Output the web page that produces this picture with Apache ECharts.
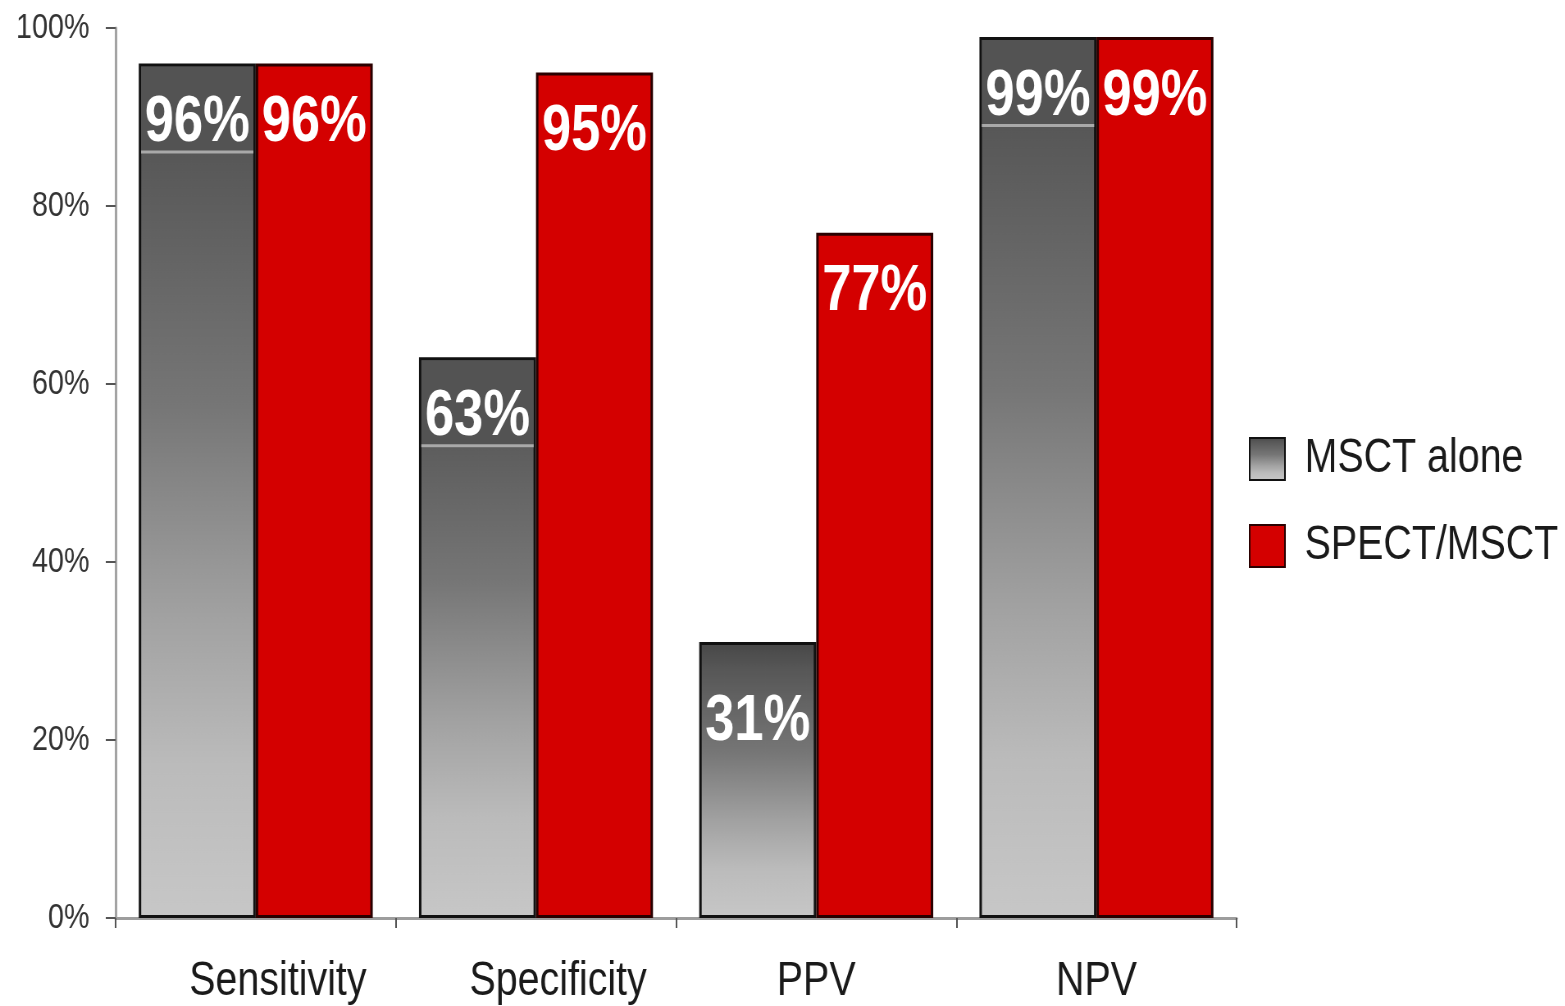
<!DOCTYPE html>
<html>
<head>
<meta charset="utf-8">
<title>MSCT alone vs SPECT/MSCT</title>
<script src="https://cdn.jsdelivr.net/npm/echarts@6/dist/echarts.min.js"></script>
<style>
  html, body { margin: 0; padding: 0; background: #ffffff; overflow: hidden; }
  /* The chart is laid out wider and squeezed horizontally so its lettering reads condensed */
  #chart { width: 1909px; height: 1006px; transform: scaleX(0.82); transform-origin: 0 0; }
</style>
</head>
<body>
<div id="chart"></div>
<script>
// Diagnostic performance per measure, in percent
const categories = ['Sensitivity', 'Specificity', 'PPV', 'NPV'];
const msctAlone = [96, 63, 31, 99];
const spectMsct = [96, 95, 77, 99];
const seriesNames = ['MSCT alone', 'SPECT/MSCT'];
const yTicks = [0, 20, 40, 60, 80, 100];

const FONT = "'Liberation Sans', Arial, Helvetica, sans-serif";

// Gray bars fade from dark at the top to light at the baseline
const grayFill = new echarts.graphic.LinearGradient(0, 0, 0, 1, [
  { offset: 0, color: '#474747' },
  { offset: 0.1, color: '#575757' },
  { offset: 0.4, color: '#767676' },
  { offset: 0.65, color: '#a2a2a2' },
  { offset: 0.82, color: '#bbbbbb' },
  { offset: 1, color: '#c7c7c7' }
]);
const redFill = '#d40000';

// Measures whose gray value sits in a dark band closed by a thin light rule
const bandedMeasures = ['Sensitivity', 'Specificity', 'NPV'];
// Measure whose gray value is set lower in its bar
const loweredMeasures = ['PPV'];
// Category names that sit a little right of their bar pair
const shiftedNames = ['Sensitivity', 'Specificity'];

const valueText = {
  fontFamily: FONT,
  fontSize: 64,
  fontWeight: 'bold',
  color: '#ffffff',
  lineHeight: 54,
  align: 'center'
};

const bandLabel = {
  show: true,
  position: 'insideTop',
  distance: 3,
  padding: [30, 0, 0, 0],
  backgroundColor: '#535353',
  formatter: p => '{v|' + p.value + '%}\n{u|}',
  rich: {
    v: valueText,
    u: { width: 137, height: 3, align: 'center', backgroundColor: '#a9a9a9' }
  }
};

const plainLabel = {
  show: true,
  position: 'insideTop',
  distance: 3,
  padding: [30, 0, 0, 0],
  formatter: p => '{v|' + p.value + '%}',
  rich: { v: valueText }
};

const grayLabel = name => {
  if (bandedMeasures.includes(name)) return bandLabel;
  if (loweredMeasures.includes(name)) return Object.assign({}, plainLabel, { distance: 23 });
  return plainLabel;
};

const option = {
  animation: false,
  backgroundColor: '#ffffff',
  grid: { left: 141, right: 401, top: 28, bottom: 86, containLabel: false },
  legend: {
    orient: 'vertical',
    left: 1518,
    top: 430,
    itemWidth: 43,
    itemHeight: 42,
    itemGap: 39,
    icon: 'rect',
    textStyle: {
      fontFamily: FONT,
      fontSize: 48,
      lineHeight: 42,
      color: '#1a1a1a',
      padding: [0, 0, 0, 19]
    },
    data: seriesNames
  },
  xAxis: {
    type: 'category',
    data: categories.map(name =>
      shiftedNames.includes(name)
        ? { value: name, textStyle: { padding: [0, 0, 0, 54] } }
        : name
    ),
    axisLine: { lineStyle: { color: '#9d9d9d', width: 3 } },
    axisTick: { show: true, length: 10, lineStyle: { color: '#555555', width: 2 } },
    axisLabel: { interval: 0, fontFamily: FONT, fontSize: 48, color: '#1a1a1a', margin: 40 }
  },
  yAxis: {
    type: 'value',
    min: 0,
    max: 100,
    interval: 20,
    axisLine: { show: true, lineStyle: { color: '#a3a3a3', width: 3 } },
    axisTick: { show: true, length: 12, lineStyle: { color: '#555555', width: 2 } },
    splitLine: { show: false },
    axisLabel: {
      fontFamily: FONT,
      fontSize: 35,
      color: '#333333',
      margin: 32,
      formatter: v => (yTicks.includes(v) ? v + '%' : '')
    }
  },
  series: [
    {
      name: seriesNames[0],
      type: 'bar',
      barGap: '0%',
      barCategoryGap: '16.5%',
      itemStyle: { color: grayFill, borderColor: '#111111', borderWidth: 3 },
      data: msctAlone.map((v, i) => ({ value: v, label: grayLabel(categories[i]) }))
    },
    {
      name: seriesNames[1],
      type: 'bar',
      barGap: '0%',
      barCategoryGap: '16.5%',
      itemStyle: { color: redFill, borderColor: '#2a0000', borderWidth: 3 },
      label: plainLabel,
      data: spectMsct
    }
  ]
};

const chart = echarts.init(document.getElementById('chart'), null, { renderer: 'canvas' });
chart.setOption(option);
</script>
</body>
</html>
